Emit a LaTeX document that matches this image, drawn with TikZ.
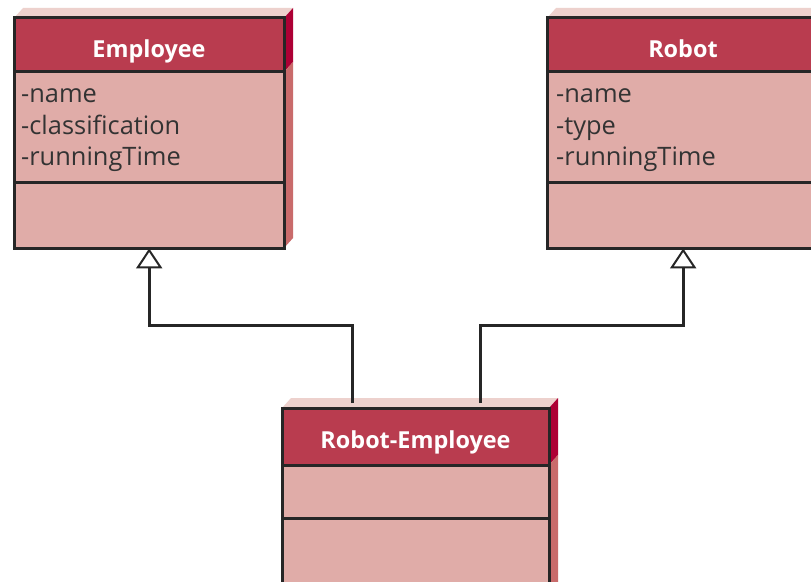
\documentclass[tikz,border=0pt]{standalone}
\usepackage{fontspec}
\setmainfont{Open Sans}
\usetikzlibrary{arrows.meta,calc}
\definecolor{headcol}{HTML}{B93C4F}
\definecolor{bodycol}{HTML}{E0ACA8}
\definecolor{topcol}{HTML}{EDD1CD}
\definecolor{sidedark}{HTML}{AD0035}
\definecolor{sidelight}{HTML}{C96B6B}
\definecolor{bordercol}{HTML}{262626}
\definecolor{textcol}{HTML}{333333}
\tikzset{
  border/.style={draw=bordercol, line width=3bp},
  titletext/.style={text=white, font=\fontsize{23.5}{28}\selectfont\bfseries, inner sep=0pt, anchor=base},
  attrtext/.style={text=textcol, font=\fontsize{25.5}{30}\selectfont, inner sep=0pt, anchor=base west},
  gen/.style={draw=bordercol, line width=3bp, -{Triangle[open, length=20bp, width=26bp, line width=2bp]}},
}
% #1 id, #2 x1, #3 x2, #4 ytop, #5 yhead, #6 ydiv, #7 ybot, #8 title
\newcommand{\classbox}[8]{%
  \fill[topcol] ({#2},{#4}) -- ({#2+9},{#4-10}) -- ({#3+9},{#4-10}) -- ({#3},{#4}) -- cycle;
  \fill[sidedark] ({#3},{#4}) -- ({#3+9},{#4-10}) -- ({#3+9},{#5-10}) -- ({#3},{#5}) -- cycle;
  \fill[sidelight] ({#3},{#5}) -- ({#3+9},{#5-10}) -- ({#3+9},{#7-10}) -- ({#3},{#7}) -- cycle;
  \fill[bodycol] ({#2},{#5}) rectangle ({#3},{#7});
  \fill[headcol] ({#2},{#4}) rectangle ({#3},{#5});
  \node[draw=none, inner sep=0pt, anchor=north west, minimum width={(#3-#2)*1bp}, minimum height={(#7-#4)*1bp}] (#1) at ({#2},{#4}) {};
  \draw[border] (#1.north west) rectangle (#1.south east);
  \draw[border] ({#2},{#5}) -- ({#3},{#5});
  \draw[border] ({#2},{#6}) -- ({#3},{#6});
  \node[titletext] (#1-title) at ({(#2+#3)/2},{#4+40}) {#8};
}
\begin{document}
\begin{tikzpicture}[x=1bp, y=-1bp]
\useasboundingbox (0,0) rectangle (811,582);
\fill[white] (0,0) rectangle (811,582);
\clip (0,0) rectangle (811,582);

\classbox{emp}{14}{284}{18}{72}{183}{248}{Employee}
\node[attrtext] (emp-a1) at (21,103) {-name};
\node[attrtext] (emp-a2) at (21,135) {-classification};
\node[attrtext] (emp-a3) at (21,166) {-runningTime};

\classbox{rob}{547}{819}{18}{72}{183}{248}{Robot}
\node[attrtext] (rob-a1) at (556,103) {-name};
\node[attrtext] (rob-a2) at (556,135) {-type};
\node[attrtext] (rob-a3) at (556,166) {-runningTime};

\classbox{re}{282}{549}{408}{465}{518}{600}{Robot-Employee}

\coordinate (b1) at (352,325);
\coordinate (b2) at (480,325);
\draw[gen] ([yshift=5bp]b1 |- re.north) -- (b1) -| (emp.south);
\draw[gen] ([yshift=5bp]b2 |- re.north) -- (b2) -| (rob.south);
\end{tikzpicture}
\end{document}
